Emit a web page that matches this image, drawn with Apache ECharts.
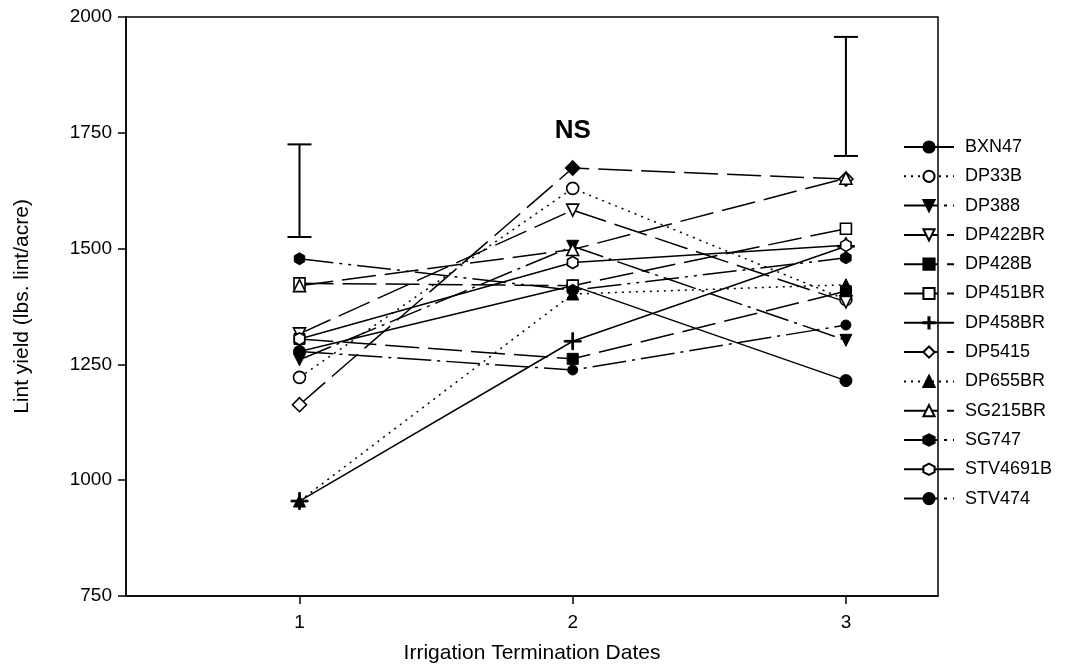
<!DOCTYPE html>
<html>
<head>
<meta charset="utf-8">
<script src="https://cdn.jsdelivr.net/npm/echarts@6/dist/echarts.min.js"></script>
<style>html,body{margin:0;padding:0;background:#fff}#c{width:1083px;height:671px}</style>
</head>
<body>
<div id="c"></div>
<script>
const dates = [1, 2, 3];
const tickLabels = ['1', '2', '3'];
const yTicks = [750, 1000, 1250, 1500, 1750, 2000];
const seriesNames = ['BXN47','DP33B','DP388','DP422BR','DP428B','DP451BR','DP458BR','DP5415','DP655BR','SG215BR','SG747','STV4691B','STV474'];
const BXN47    = [1278, 1420, 1215];
const DP33B    = [1222, 1630, 1390];
const DP388    = [1260, 1505, 1302];
const DP422BR  = [1316, 1583, 1385];
const DP428B   = [1305, 1262, 1408];
const DP451BR  = [1425, 1420, 1543];
const DP458BR  = [955, 1300, 1505];
const DP5415   = [1163, 1674, 1650];
const DP655BR  = [955, 1402, 1422];
const SG215BR  = [1420, 1498, 1652];
const SG747    = [1478, 1410, 1480];
const STV4691B = [1305, 1470, 1507];
const STV474   = [1278, 1238, 1335];
const errBarLow  = [1525, null, 1700];
const errBarHigh = [1725, null, 1957];
const nsLabel = {x: 2, y: 1755, text: 'NS'};

const values = {BXN47, DP33B, DP388, DP422BR, DP428B, DP451BR, DP458BR, DP5415, DP655BR, SG215BR, SG747, STV4691B, STV474};

const HEX = 'path://M0,-1 L0.866,-0.5 L0.866,0.5 L0,1 L-0.866,0.5 L-0.866,-0.5 Z';
const PLUS = 'path://M-1,-0.1 L-0.1,-0.1 L-0.1,-1 L0.1,-1 L0.1,-0.1 L1,-0.1 L1,0.1 L0.1,0.1 L0.1,1 L-0.1,1 L-0.1,0.1 L-1,0.1 Z';
const SOLID = 'solid';
const DOT = [2, 5];
const LDASH = [34, 9];
const DASHDOT = [34, 6, 3, 6];
const DASHDOTDOT = [34, 6, 3, 6, 3, 6];

const look = {
  BXN47:    {symbol:'circle', filled:true, line:SOLID},
  DP33B:    {symbol:'circle', filled:false, line:DOT},
  DP388:    {symbol:'triangle', rotate:180, filled:true, line:DASHDOT},
  DP422BR:  {symbol:'triangle', rotate:180, filled:false, line:LDASH},
  DP428B:   {symbol:'rect', filled:true, line:LDASH, size:11},
  DP451BR:  {symbol:'rect', filled:false, line:LDASH, size:11},
  DP458BR:  {symbol:PLUS, filled:true, line:SOLID, size:17},
  DP5415:   {symbol:'diamond', filled:false, line:LDASH, size:14},
  DP655BR:  {symbol:'triangle', filled:true, line:DOT},
  SG215BR:  {symbol:'triangle', filled:false, line:LDASH},
  SG747:    {symbol:HEX, filled:true, line:DASHDOTDOT},
  STV4691B: {symbol:HEX, filled:false, line:SOLID},
  STV474:   {symbol:'circle', filled:true, line:DASHDOT, size:10}
};

const FONT = 'Liberation Sans, Arial, sans-serif';

const series = seriesNames.map(name => {
  const lk = look[name];
  return {
    name: name,
    type: 'line',
    symbol: lk.symbol,
    symbolRotate: lk.rotate || 0,
    symbolKeepAspect: true,
    symbolSize: lk.size || 12,
    showAllSymbol: true,
    lineStyle: {color: '#000', width: 1.5, type: lk.line},
    itemStyle: lk.filled ? {color: '#000', borderColor: '#000', borderWidth: 1}
                         : {color: '#fff', borderColor: '#000', borderWidth: 1.6},
    emphasis: {disabled: true},
    animation: false,
    data: dates.map((d, i) => {
      if (name === 'DP5415' && i === 1) {
        return {value: [d, values[name][i]], itemStyle: {color: '#000', borderColor: '#000'}};
      }
      return [d, values[name][i]];
    })
  };
});

const errData = dates.map((d, i) => [d, errBarLow[i], errBarHigh[i]]).filter(r => r[1] != null);
series.push({
  name: 'err',
  type: 'custom',
  animation: false,
  data: errData,
  renderItem: function (params, api) {
    const x = api.value(0);
    const lo = api.coord([x, api.value(1)]);
    const hi = api.coord([x, api.value(2)]);
    const hw = 12;
    const st = {stroke: '#000', lineWidth: 2};
    return {type: 'group', children: [
      {type: 'line', shape: {x1: lo[0], y1: lo[1], x2: hi[0], y2: hi[1]}, style: st},
      {type: 'line', shape: {x1: lo[0] - hw, y1: lo[1], x2: lo[0] + hw, y2: lo[1]}, style: st},
      {type: 'line', shape: {x1: hi[0] - hw, y1: hi[1], x2: hi[0] + hw, y2: hi[1]}, style: st}
    ]};
  }
});
series.push({
  name: 'ns',
  type: 'scatter',
  symbol: 'circle',
  symbolSize: 1,
  itemStyle: {color: 'rgba(0,0,0,0)'},
  emphasis: {disabled: true},
  animation: false,
  data: [[nsLabel.x, nsLabel.y]],
  label: {show: true, position: 'inside', formatter: nsLabel.text, fontFamily: FONT, fontWeight: 'bold', fontSize: 26,
          color: '#000', textBorderWidth: 0, opacity: 1}
});

const chart = echarts.init(document.getElementById('c'), null, {renderer: 'canvas'});
chart.setOption({
  backgroundColor: '#fff',
  animation: false,
  grid: {left: 126, right: 145, top: 17, bottom: 75, show: true, borderColor: '#000', borderWidth: 1.5, backgroundColor: 'transparent'},
  legend: {
    data: seriesNames,
    orient: 'vertical',
    left: 898,
    top: 133,
    itemWidth: 50,
    itemHeight: 14,
    itemGap: 11.3,
    selectedMode: false,
    textStyle: {fontFamily: FONT, fontSize: 18, color: '#000', padding: [0, 0, 0, 6]}
  },
  xAxis: {
    type: 'value',
    min: 0.365,
    max: 3.337,
    name: 'Irrigation Termination Dates',
    nameLocation: 'middle',
    nameGap: 47,
    nameTextStyle: {fontFamily: FONT, fontSize: 21, color: '#000'},
    axisLine: {show: true, onZero: false, lineStyle: {color: '#000', width: 1.5}},
    axisTick: {show: true, length: 8, lineStyle: {color: '#000', width: 1.5}, customValues: dates},
    axisLabel: {show: true, margin: 17, fontFamily: FONT, fontSize: 19, color: '#000', customValues: dates,
                formatter: v => tickLabels[dates.indexOf(v)] ?? ''},
    splitLine: {show: false}
  },
  yAxis: {
    type: 'value',
    min: yTicks[0],
    max: yTicks[yTicks.length - 1],
    interval: 250,
    name: 'Lint yield (lbs. lint/acre)',
    nameLocation: 'middle',
    nameGap: 93,
    nameTextStyle: {fontFamily: FONT, fontSize: 21, color: '#000'},
    axisLine: {show: true, onZero: false, lineStyle: {color: '#000', width: 1.5}},
    axisTick: {show: true, length: 8, lineStyle: {color: '#000', width: 1.5}},
    axisLabel: {margin: 14, fontFamily: FONT, fontSize: 19, color: '#000', formatter: v => String(v)},
    splitLine: {show: false}
  },
  series: series
});
</script>
</body>
</html>
